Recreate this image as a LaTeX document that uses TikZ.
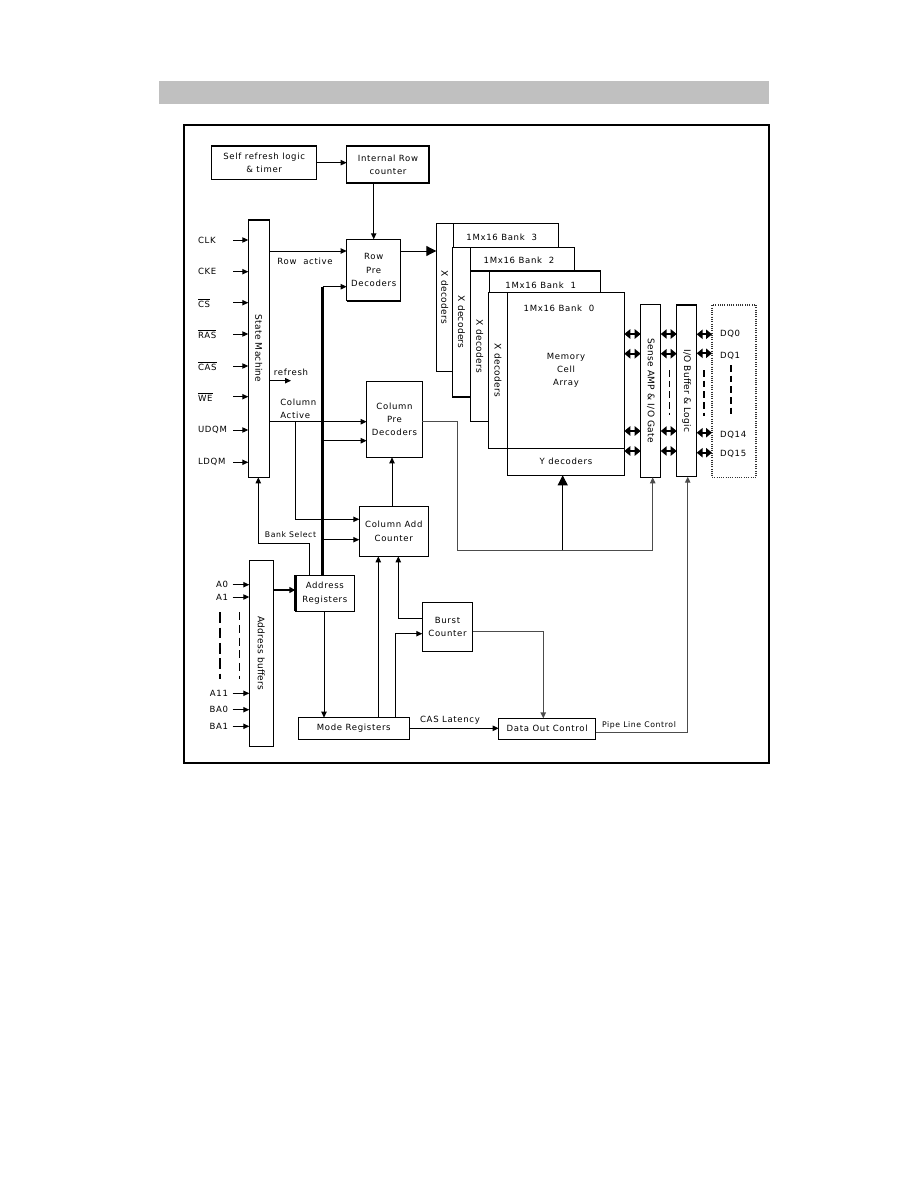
\documentclass[tikz,border=0pt]{standalone}
\usepackage{fontspec}
\setmainfont{DejaVu Sans}
\newfontfamily\dfont[LetterSpace=8]{DejaVu Sans}
\newfontfamily\rfont[LetterSpace=3]{DejaVu Sans}
\usetikzlibrary{arrows.meta,calc}
\definecolor{hdr}{RGB}{192,192,192}
\newcommand{\blk}[7][]{%
  \node[box,#1,minimum width={(#5-#3)*0.75pt},minimum height={(#6-#4)*0.75pt}] (#2) at ({(#3+#5)/2},{(#4+#6)/2}) {#7};}
\tikzset{
  box/.style={draw,fill=white,line width=0.8pt,inner sep=0pt,outer sep=0pt,align=center,font=\dfont\fontsize{6.4}{10}\selectfont},
  lbl/.style={inner sep=0pt,outer sep=0pt,align=center,font=\dfont\fontsize{6.4}{10}\selectfont},
  rot/.style={font=\rfont\fontsize{6.8}{8}\selectfont},
  conn/.style={line width=0.75pt},
  arr/.style={conn,-{Triangle[length=4.5pt,width=4pt]}},
  bigarr/.style={conn,-{Triangle[length=7.5pt,width=7.5pt]}},
  busarr/.style={line width=1.8pt,-{Triangle[length=4.5pt,width=4.5pt]}},
  dbl/.style={line width=1.4pt,{Triangle[length=4.5pt,width=7pt]}-{Triangle[length=4.5pt,width=7pt]}},
  bus/.style={line width=2.2pt},
  grayconn/.style={draw=black!70},
  dsh/.style={line width=0.8pt,dash pattern=on 5pt off 3pt},
}
\begin{document}
\begin{tikzpicture}[x=0.75pt,y=-0.75pt]
\useasboundingbox (0,0) rectangle (918,1188);
\fill[white] (0,0) rectangle (918,1188);
% header bar and frame
\fill[hdr] (159,81) rectangle (769,104);
\draw[line width=1.4pt] (184,125) rectangle (769,763);

% blocks
\blk{srl}{211.7}{146}{316.7}{179.3}{Self refresh logic\\\& timer}
\blk{irc}{346.7}{146}{429.3}{183.3}{Internal Row\\counter}
\blk{rp}{346.7}{239.3}{400.7}{300.7}{Row\\Pre\\Decoders}
\blk[rot]{sm}{248.3}{220}{269.3}{477.3}{\rotatebox{-90}{State Machine}}
\blk{cp}{366.7}{381.3}{422.3}{457.3}{Column\\Pre\\Decoders}
\blk{cac}{359.3}{506.3}{428.3}{556.3}{Column Add\\Counter}
\blk[rot]{ab}{249.3}{560.3}{273.3}{746.3}{\rotatebox{-90}{Address buffers}}
\blk{ar}{295.3}{575.3}{354.3}{611.3}{Address\\Registers}
\blk{mr}{298.3}{717.7}{409.3}{739.3}{Mode Registers}
\blk{bc}{422.3}{602.3}{472.7}{651.3}{Burst\\Counter}
\blk{doc}{498.7}{718.3}{595.7}{739.3}{Data Out Control}

% shadows
\draw[line width=1.6pt] (irc.north east) -- (irc.south east) -- (irc.south west);
\draw[line width=1.8pt] (rp.south west) -- (rp.south east);
\draw[line width=1.8pt] (ar.north west) -- (ar.south west);

% banks
\blk{b3}{436.3}{223.3}{558.3}{371.3}{}
\blk[rot]{xd3}{436.3}{223.3}{453.3}{371.3}{\rotatebox{-90}{X decoders}}
\node[lbl] (t3) at (501.7,237) {1Mx16 Bank\ \ 3};
\blk{b2}{452.3}{247.3}{574.3}{397}{}
\blk[rot]{xd2}{452.3}{247.3}{470.7}{397}{\rotatebox{-90}{X decoders}}
\node[lbl] (t2) at (519,260.5) {1Mx16 Bank\ \ 2};
\blk{b1}{470.3}{271}{600.3}{421.7}{}
\blk[rot]{xd1}{470.3}{271}{489.3}{421.7}{\rotatebox{-90}{X decoders}}
\node[lbl] (t1) at (540.7,285) {1Mx16 Bank\ \ 1};
\blk[rot]{xd0}{488.3}{292.3}{507.7}{448.3}{\rotatebox{-90}{X decoders}}
\blk{ma}{507.7}{292.3}{624.3}{448.3}{Memory\\Cell\\Array}
\node[lbl] (t0) at (559,308) {1Mx16 Bank\ \ 0};
\blk{yd}{507.7}{448.3}{624.3}{475.3}{Y decoders}

\blk[rot]{sa}{640.7}{304.3}{660.7}{477.3}{\rotatebox{-90}{Sense AMP \& I/O Gate}}
\blk[rot]{iob}{676.7}{305}{696.7}{476.7}{\rotatebox{-90}{I/O Buffer \& Logic}}
\blk[draw=black!80,dash pattern=on 0.7pt off 1pt]{dq}{712}{305}{756}{477.3}{}

% DQ labels
\node[lbl,anchor=west] (dq0) at (720,334.3) {DQ0};
\node[lbl,anchor=west] (dq1) at (720,355.5) {DQ1};
\node[lbl,anchor=west] (dq14) at (720,435) {DQ14};
\node[lbl,anchor=west] (dq15) at (720,454.3) {DQ15};

% double arrows
\foreach \yy in {334,353.7,431,451}{
  \coordinate (t) at (0,\yy);
  \draw[dbl] (ma.east |- t) -- (sa.west |- t);
  \draw[dbl] (sa.east |- t) -- (iob.west |- t);
}
\foreach \yy in {334.3,353.3,432.7,452.7}{
  \coordinate (t) at (0,\yy);
  \draw[dbl] (iob.east |- t) -- (dq.west |- t);
}
\draw[dsh] (669.3,370) -- (669.3,415);
\draw[dsh] (704,370) -- (704,416);
\draw[dsh] (731,365) -- (731,415);

% state machine inputs
\foreach \nm/\yy/\tx in {clk/240/CLK, cke/271.7/CKE, cs/302.7/{\(\overline{\mbox{CS}}\)}, ras/334/{\(\overline{\mbox{RAS}}\)}, cas/366/{\(\overline{\mbox{CAS}}\)}, we/396.7/{\(\overline{\mbox{WE}}\)}, udqm/430/UDQM, ldqm/462.3/LDQM}{
  \node[lbl,anchor=west] (\nm) at (198,\yy) {\tx};
  \coordinate (\nm-s) at (233,\yy);
  \draw[arr] (\nm-s) -- (\nm-s -| sm.west);
}

% address inputs
\foreach \nm/\yy/\tx in {a0/584.7/A0, a1/597/A1, a11/693.3/A11, ba0/709.7/BA0, ba1/726.3/BA1}{
  \node[lbl,anchor=east] (\nm) at (228,\yy) {\tx};
  \coordinate (\nm-s) at (232.7,\yy);
  \draw[arr] (\nm-s) -- (\nm-s -| ab.west);
}
\draw[line width=2.2pt,dash pattern=on 8pt off 3.5pt] (220,612.3) -- (220,679.3);
\draw[line width=0.7pt,dash pattern=on 6pt off 3.5pt] (239.7,612.3) -- (239.7,679.3);

% top connections
\draw[arr] (srl.east) -- (srl.east -| irc.west);
\draw[arr] (rp.north |- irc.south) -- (rp.north);

% row active
\coordinate (yRA) at (0,251);
\draw[arr] (sm.east |- yRA) -- (rp.west |- yRA);
\node[lbl] (tRA) at (305,261.7) {Row\ \ active};
\draw[bigarr] (rp.east |- yRA) -- (xd3.west |- yRA);

% refresh
\coordinate (rfE) at (291,380.7);
\draw[arr] (sm.east |- rfE) -- (rfE);
\node[lbl] (tRF) at (291,372) {refresh};

% column active
\coordinate (yCA) at (0,421.7);
\coordinate (xCA) at (295.3,0);
\coordinate (yCAC) at (0,519.3);
\draw[arr] (sm.east |- yCA) -- (cp.west |- yCA);
\node[lbl,anchor=west,align=left] (tCA) at (280.3,409) {Column\\Active};
\draw[arr] (xCA |- yCA) -- (xCA |- yCAC) -- (cac.west |- yCAC);

% address bus
\coordinate (xB) at (322.7,0);
\coordinate (yB1) at (0,286.7);
\coordinate (yB2) at (0,440.7);
\coordinate (yB3) at (0,539.7);
\draw[bus] (ar.north -| xB) -- (xB |- yB1);
\draw[arr] (xB |- yB1) -- (rp.west |- yB1);
\draw[arr] (xB |- yB2) -- (cp.west |- yB2);
\draw[arr] (xB |- yB3) -- (cac.west |- yB3);

% bank select
\coordinate (bsA) at (309,543.3);
\coordinate (bsB) at (258.3,543.3);
\draw[arr] (ar.north -| bsA) -- (bsA) -- (bsB) -- (sm.south -| bsB);
\node[lbl,font=\dfont\fontsize{5.8}{7}\selectfont] (tBS) at (290.5,535) {Bank Select};

% address buffers to address registers
\coordinate (yAB) at (0,590);
\draw[busarr] (ab.east |- yAB) -- (ar.west |- yAB);

% address registers to mode registers
\coordinate (xAM) at (324,0);
\draw[arr] (ar.south -| xAM) -- (mr.north -| xAM);

% mode registers up
\coordinate (xMC) at (378.3,0);
\draw[arr] (mr.north -| xMC) -- (cac.south -| xMC);
\coordinate (xMB) at (395.7,0);
\coordinate (yMB) at (0,633.7);
\draw[arr] (mr.north -| xMB) -- (xMB |- yMB) -- (bc.west |- yMB);

% burst counter to column add
\coordinate (xBC) at (398.3,0);
\coordinate (yBC) at (0,618);
\draw[arr] (bc.west |- yBC) -- (xBC |- yBC) -- (cac.south -| xBC);

% burst counter to data out
\coordinate (xBD) at (543.3,0);
\coordinate (yBD) at (0,631.7);
\draw[arr,grayconn,line width=1.1pt] (bc.east |- yBD) -- (xBD |- yBD) -- (doc.north -| xBD);

% CAS latency
\coordinate (yCL) at (0,728.3);
\draw[arr] (mr.east |- yCL) -- (doc.west |- yCL);
\node[lbl] (tCL) at (450,720.3) {CAS Latency};

% pipe line control
\coordinate (xPL) at (687.7,0);
\coordinate (yPL) at (0,732.3);
\draw[arr,grayconn,line width=1pt] (doc.east |- yPL) -- (xPL |- yPL) -- (iob.south -| xPL);
\node[lbl,font=\dfont\fontsize{5.8}{7}\selectfont] (tPL) at (639,725.7) {Pipe Line Control};

% column add to column pre
\coordinate (xCC) at (392,0);
\draw[arr] (cac.north -| xCC) -- (cp.south -| xCC);

% column pre to sense amp and Y decoders
\coordinate (xCS) at (457.3,0);
\coordinate (yCS) at (0,550.3);
\coordinate (xSA) at (652.7,0);
\coordinate (xYD) at (562.7,0);
\draw[arr,grayconn] (cp.east |- yCA) -- (xCS |- yCA) -- (xCS |- yCS) -- (xSA |- yCS) -- (sa.south -| xSA);
\draw[bigarr] (xYD |- yCS) -- (yd.south -| xYD);
\end{tikzpicture}
\end{document}
